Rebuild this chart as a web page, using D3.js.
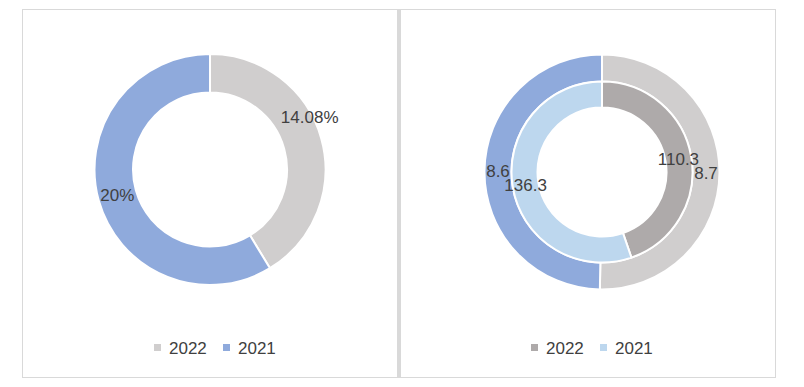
<!DOCTYPE html>
<html>
  <head>
    <meta charset="utf-8">
    <title>Donut charts 2022 / 2021</title>
    <script src="https://d3js.org/d3.v7.min.js"></script>
    <style>
      body { margin: 0; background: #fff; }
      text { font-family: "Liberation Sans", Arial, sans-serif; fill: #404040; }
    </style>
  </head>
  <body>
    <div id="chart"></div>
    <script>
      // data
      const years = ["2022", "2021"];
      const leftValues = [14.08, 20];
      const leftLabels = ["14.08%", "20%"];
      const rightOuterValues = [8.7, 8.6];
      const rightInnerValues = [110.3, 136.3];

      const leftColors = ["#d0cece", "#8faadc"];
      const outerColors = ["#d0cece", "#8faadc"];
      const innerColors = ["#aeaaaa", "#bdd7ee"];

      const width = 804, height = 387;
      const svg = d3.select("#chart").append("svg")
        .attr("width", width)
        .attr("height", height);

      // panel frames
      svg.append("rect")
        .attr("x", 22.5).attr("y", 9.5)
        .attr("width", 375).attr("height", 368)
        .attr("fill", "none").attr("stroke", "#d9d9d9");
      svg.append("rect")
        .attr("x", 400.5).attr("y", 9.5)
        .attr("width", 375).attr("height", 368)
        .attr("fill", "none").attr("stroke", "#d9d9d9");
      svg.append("rect")
        .attr("x", 397).attr("y", 9)
        .attr("width", 4).attr("height", 369)
        .attr("fill", "#d9d9d9");

      const pie = d3.pie().sort(null).value(d => d);

      // left donut
      const left = svg.append("g").attr("transform", "translate(210,169.5)");
      const leftArc = d3.arc().innerRadius(77).outerRadius(115.5);
      const leftArcs = pie(leftValues);
      left.selectAll("path")
        .data(leftArcs)
        .join("path")
        .attr("d", leftArc)
        .attr("fill", (d, i) => leftColors[i])
        .attr("stroke", "#fff")
        .attr("stroke-width", 2);

      // Excel nudged the 2022 label outward a bit
      const leftLabelShift = [[7, -27], [0, 0]];
      left.selectAll("text")
        .data(leftArcs)
        .join("text")
        .attr("transform", (d, i) => {
          const c = leftArc.centroid(d);
          return `translate(${c[0] + leftLabelShift[i][0]},${c[1] + leftLabelShift[i][1]})`;
        })
        .attr("text-anchor", "middle")
        .attr("dy", "0.35em")
        .attr("font-size", 17)
        .text((d, i) => leftLabels[i]);

      // right double donut
      const right = svg.append("g").attr("transform", "translate(602,172)");
      const outerArc = d3.arc().innerRadius(90.5).outerRadius(117.5);
      const innerArc = d3.arc().innerRadius(64.5).outerRadius(90.5);
      const outerArcs = pie(rightOuterValues);
      const innerArcs = pie(rightInnerValues);

      right.selectAll("path.outer")
        .data(outerArcs)
        .join("path")
        .attr("class", "outer")
        .attr("d", outerArc)
        .attr("fill", (d, i) => outerColors[i])
        .attr("stroke", "#fff")
        .attr("stroke-width", 2);
      right.selectAll("path.inner")
        .data(innerArcs)
        .join("path")
        .attr("class", "inner")
        .attr("d", innerArc)
        .attr("fill", (d, i) => innerColors[i])
        .attr("stroke", "#fff")
        .attr("stroke-width", 2);

      right.selectAll("text.outer")
        .data(outerArcs)
        .join("text")
        .attr("class", "outer")
        .attr("transform", d => `translate(${outerArc.centroid(d)})`)
        .attr("text-anchor", "middle")
        .attr("dy", "0.35em")
        .attr("font-size", 17)
        .text(d => d.data);
      right.selectAll("text.inner")
        .data(innerArcs)
        .join("text")
        .attr("class", "inner")
        .attr("transform", d => `translate(${innerArc.centroid(d)})`)
        .attr("text-anchor", "middle")
        .attr("dy", "0.35em")
        .attr("font-size", 17)
        .text(d => d.data);

      // legends
      function legend(cx, colors) {
        const g = svg.append("g").attr("transform", `translate(${cx},348)`);
        const item = g.selectAll("g")
          .data(years)
          .join("g")
          .attr("transform", (d, i) => `translate(${i * 69},0)`);
        item.append("rect")
          .attr("x", 0).attr("y", -4)
          .attr("width", 7).attr("height", 7)
          .attr("fill", (d, i) => colors[i]);
        item.append("text")
          .attr("x", 15)
          .attr("dy", "0.35em")
          .attr("font-size", 17)
          .text(d => d);
      }
      legend(154, leftColors);
      legend(531, innerColors);
    </script>
  </body>
</html>
